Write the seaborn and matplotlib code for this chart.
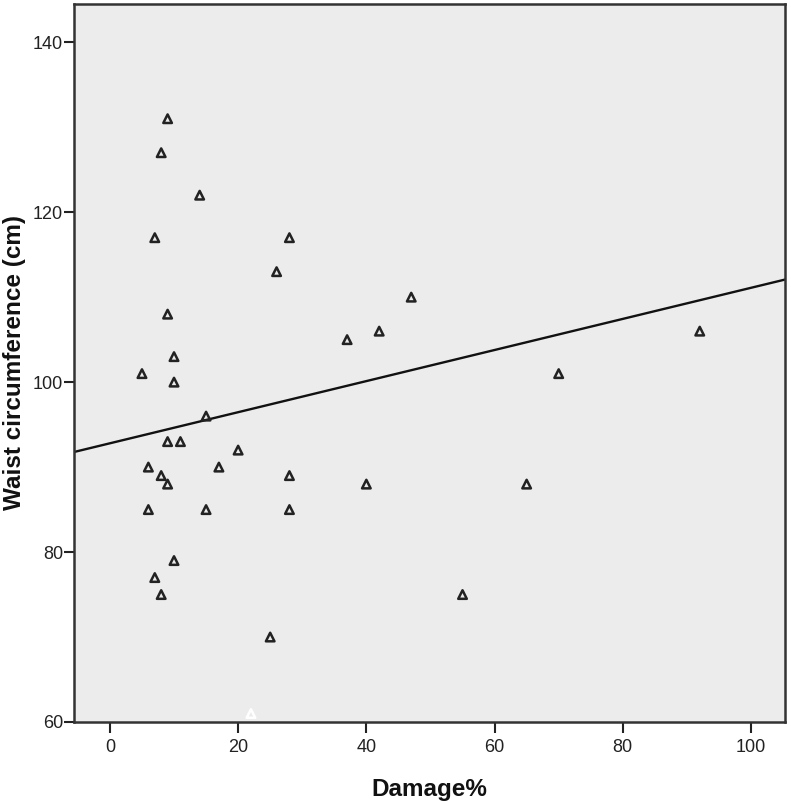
import matplotlib
matplotlib.use("Agg")
import matplotlib.pyplot as plt
import seaborn as sns
import pandas as pd

# Data
damage = [9, 8, 14, 7, 28, 26, 9, 47, 37, 42, 92, 5, 10, 10, 15, 70, 9, 11, 20, 6,
          17, 8, 9, 28, 40, 65, 6, 15, 28, 10, 7, 8, 55, 25]
waist = [131, 127, 122, 117, 117, 113, 108, 110, 105, 106, 106, 101, 103, 100, 96, 101, 93, 93, 92, 90,
         90, 89, 88, 89, 88, 88, 85, 85, 85, 79, 77, 75, 75, 70]
# one point drawn in white in the reference
white_damage = [22]
white_waist = [61]

# fit line as shown in the reference
fit_intercept = 92.8
fit_slope = 0.183

x_ticks = [0, 20, 40, 60, 80, 100]
y_ticks = [60, 80, 100, 120, 140]

df = pd.DataFrame({"Damage%": damage, "Waist circumference (cm)": waist})
df_white = pd.DataFrame({"Damage%": white_damage, "Waist circumference (cm)": white_waist})

sns.set_theme(style="ticks")
plt.rcParams["font.family"] = ["Liberation Sans", "DejaVu Sans"]

fig = plt.figure(figsize=(7.91, 8.02), dpi=100)
ax = fig.add_axes([74 / 791, 1 - 722 / 802, (785 - 74) / 791, (722 - 4) / 802])
ax.set_facecolor("#ECECEC")

ax.axline((0, fit_intercept), slope=fit_slope, color="#111111", lw=1.7, zorder=2)
sns.scatterplot(data=df, x="Damage%", y="Waist circumference (cm)", ax=ax, marker="^",
                s=38, facecolor="none", edgecolor="#222222", linewidth=1.8, zorder=3)
sns.scatterplot(data=df_white, x="Damage%", y="Waist circumference (cm)", ax=ax, marker="^",
                s=38, facecolor="none", edgecolor="white", linewidth=1.8, zorder=3)

ax.set_xlim(-5.6, 105.3)
ax.set_ylim(60, 144.5)
ax.set_xticks(x_ticks)
ax.set_yticks(y_ticks)
ax.tick_params(axis="x", length=8, width=1.5, color="#222222", labelsize=13, pad=4,
               labelcolor="#222222")
ax.tick_params(axis="y", length=7, width=1.5, color="#222222", labelsize=13, pad=1,
               labelcolor="#222222")
for sp in ax.spines.values():
    sp.set_visible(True)
    sp.set_color("#333333")
    sp.set_linewidth(1.8)

ax.set_xlabel("Damage%", fontsize=17.5, fontweight="bold", labelpad=16, color="#111111")
ax.set_ylabel("Waist circumference (cm)", fontsize=17.5, fontweight="bold", labelpad=5,
              color="#111111")

fig.savefig("out.png", dpi=100, facecolor="white")
